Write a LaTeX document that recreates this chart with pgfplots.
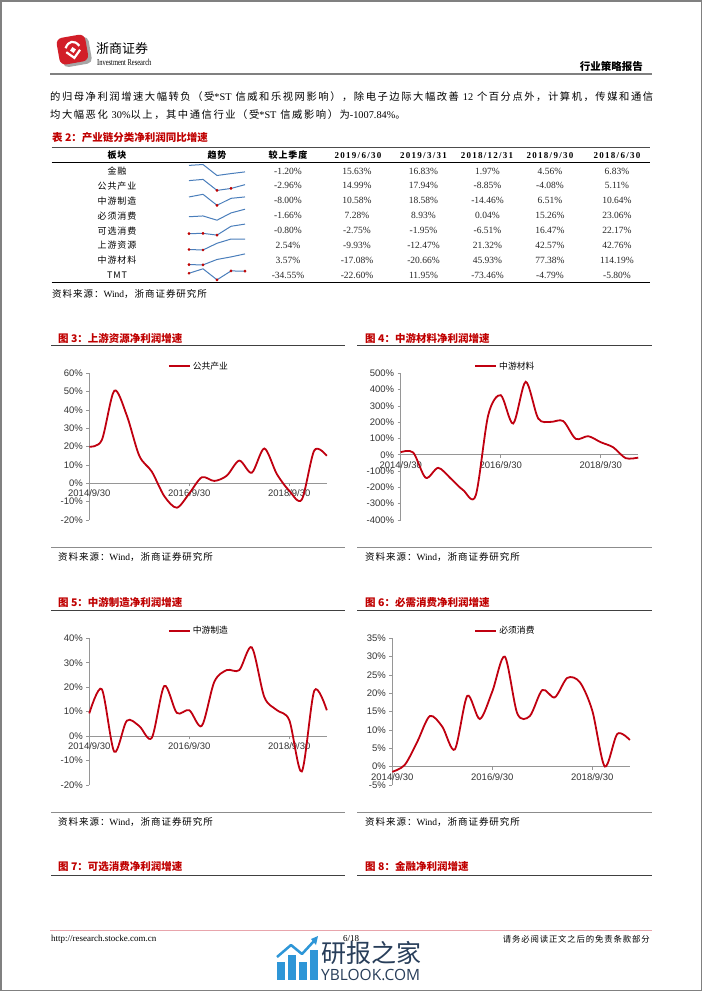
\documentclass[border=0pt]{standalone}
\usepackage{pgfplots}
\pgfplotsset{compat=1.18}
\usepackage{fontspec}
\setmainfont{Liberation Sans}
\newfontfamily\cjk{Noto Sans CJK SC}
\newfontfamily\cjkls[LetterSpace=15]{Noto Sans CJK SC}
\newfontfamily\cjkt[LetterSpace=10]{Noto Sans CJK SC}
\newfontfamily\tnr{Liberation Serif}
\newfontfamily\tnrls[LetterSpace=14]{Liberation Serif}
\newfontfamily\osans{Open Sans}
\definecolor{linered}{RGB}{192,0,16}
\definecolor{titlered}{RGB}{192,0,0}
\definecolor{axgray}{RGB}{150,150,150}
\definecolor{pagegray}{RGB}{128,128,128}
\definecolor{sparkblue}{RGB}{74,126,187}
\definecolor{sparkred}{RGB}{192,0,0}
\definecolor{logored}{RGB}{210,30,40}
\definecolor{wmblue}{RGB}{46,150,215}
\definecolor{wmnavy}{RGB}{40,62,90}
\definecolor{footpink}{RGB}{232,165,172}

\pgfplotsset{
  chartstyle/.style={scale only axis, width=237.5pt, height=146.7pt,
    xmin=0, xmax=19,
    axis x line=middle, axis y line=left,
    hide obscured x ticks=false, hide obscured y ticks=false,
    axis line style={-, draw=axgray, line width=0.7pt},
    xtick={0,8,16}, xticklabels={2014/9/30,2016/9/30,2018/9/30},
    tick style={draw=axgray, line width=0.7pt},
    tick align=outside, major tick length=3pt,
    yticklabel={\pgfmathprintnumber{\tick}\%},
    ticklabel style={font=\fontsize{9.5}{11}\selectfont, text=black!80},
    /pgf/number format/assume math mode=true,
    clip=false,
    legend style={draw=none, fill=none, anchor=center,
      font=\cjk\fontsize{8.8}{10}\selectfont, inner sep=0pt},
    legend image code/.code={\draw[##1] (0pt,0pt) -- (21pt,0pt);}
  },
  sparkstyle/.style={anchor=west, scale only axis, width=56pt, height=11pt,
    hide axis, xmin=0, xmax=4, enlargelimits=false, clip=false}
}

\newcommand\spark[3]{%
\begin{axis}[sparkstyle, at={(189pt,-#1pt)}]
\addplot[sparkblue, line width=1pt] coordinates {#2};
#3
\end{axis}}

\begin{document}
\begin{tikzpicture}
\begin{scope}[x=1pt,y=-1pt]
\path[use as bounding box] (0,0) rectangle (702,991);
\fill[white] (0,0) rectangle (702,991);
\draw[pagegray, line width=1.5pt] (0.75,0.75) rectangle (701.25,990.25);

% logo
\begin{scope}[shift={(73,50)}, rotate=10]
\fill[black!35, rounded corners=5pt] (-12,-11) rectangle (17,16);
\fill[logored, rounded corners=6pt] (-15,-14) rectangle (14,13);
\draw[white, line width=2.2pt] (-7,-3) .. controls (-3,-10) and (3,-10) .. (7,-3);
\draw[white, line width=2.2pt] (-7,1) -- (0,8) -- (7,1);
\fill[white] (0,-3) -- (3,0) -- (0,3) -- (-3,0) -- cycle;
\end{scope}
\node[anchor=west, inner sep=0pt, font=\cjk\fontsize{13}{14}\selectfont] at (96,48.5) {浙商证券};
\node[anchor=west, inner sep=0pt] at (97,62) {\scalebox{0.72}[1]{\tnr\fontsize{9}{10}\selectfont Investment Research}};
\node[anchor=east, inner sep=0pt, font=\cjk\bfseries\fontsize{10.5}{12}\selectfont] at (643,66.7) {行业策略报告};
\draw[pagegray, line width=1.2pt] (50,74) -- (652,74);

% body text
\node[anchor=west, inner sep=0pt, font=\cjkls\fontsize{10.3}{12}\selectfont] at (50,96.7) {的归母净利润增速大幅转负（受{\tnr *ST} 信威和乐视网影响），除电子边际大幅改善 {\tnr 12} 个百分点外，计算机，传媒和通信};
\node[anchor=west, inner sep=0pt, font=\cjkls\fontsize{10.3}{12}\selectfont] at (50,114.3) {均大幅恶化 {\tnr 30\%}以上，其中通信行业（受{\tnr *ST} 信威影响）为{\tnr -1007.84\%}。};

% table
\node[anchor=west, inner sep=0pt, text=titlered, font=\cjk\bfseries\fontsize{10.5}{12}\selectfont] at (52,137.7) {表 2：产业链分类净利润同比增速};
\draw[black!70, line width=0.8pt] (51.7,147.5) -- (650,147.5);
\draw[black, line width=1.3pt] (51.7,162.3) -- (650,162.3);
\draw[black, line width=1.4pt] (51.7,282.7) -- (650,282.7);
\begin{scope}[every node/.style={inner sep=0pt, font=\cjkt\bfseries\fontsize{9}{10}\selectfont}]
\node at (117,155.3) {板块};
\node at (217,155.3) {趋势};
\node at (288,155.3) {较上季度};
\end{scope}
\begin{scope}[every node/.style={inner sep=0pt, font=\tnrls\bfseries\fontsize{9}{10}\selectfont}]
\node at (358,155.3) {2019/6/30};
\node at (423.5,155.3) {2019/3/31};
\node at (487,155.3) {2018/12/31};
\node at (550,155.3) {2018/9/30};
\node at (617,155.3) {2018/6/30};
\end{scope}
\foreach \y/\n/\a/\b/\c/\d/\e/\f in {
 171/金融/-1.20/15.63/16.83/1.97/4.56/6.83,
 185.9/公共产业/-2.96/14.99/17.94/-8.85/-4.08/5.11,
 200.8/中游制造/-8.00/10.58/18.58/-14.46/6.51/10.64,
 215.7/必须消费/-1.66/7.28/8.93/0.04/15.26/23.06,
 230.6/可选消费/-0.80/-2.75/-1.95/-6.51/16.47/22.17,
 245.5/上游资源/2.54/-9.93/-12.47/21.32/42.57/42.76,
 260.4/中游材料/3.57/-17.08/-20.66/45.93/77.38/114.19,
 275.3/TMT/-34.55/-22.60/11.95/-73.46/-4.79/-5.80}{
 \node[inner sep=0pt, font=\cjkt\fontsize{9}{10}\selectfont] at (117,\y) {\n};
 \begin{scope}[every node/.style={inner sep=0pt, font=\tnr\fontsize{9.5}{10}\selectfont, text=black!85}]
 \node at (288,\y) {\a\%};
 \node at (357,\y) {\b\%};
 \node at (423.5,\y) {\c\%};
 \node at (487.5,\y) {\d\%};
 \node at (550,\y) {\e\%};
 \node at (617,\y) {\f\%};
 \end{scope}
}
\node[anchor=west, inner sep=0pt, font=\cjkt\fontsize{9.5}{11}\selectfont] at (52,294) {资料来源：{\tnr Wind}，浙商证券研究所};

% figure frames
\begin{scope}[every node/.style={anchor=west, inner sep=0pt, text=titlered, font=\cjk\bfseries\fontsize{10.5}{12}\selectfont}]
\node at (58,338) {图 3：上游资源净利润增速};
\node at (365,338) {图 4：中游材料净利润增速};
\node at (58,602.7) {图 5：中游制造净利润增速};
\node at (365,602.7) {图 6：必需消费净利润增速};
\node at (58,866.7) {图 7：可选消费净利润增速};
\node at (365,866.7) {图 8：金融净利润增速};
\end{scope}
\foreach \yy in {345.7,610.7,875.7}{
 \draw[black!75, line width=1.4pt] (51,\yy) -- (345,\yy);
 \draw[black!75, line width=1.4pt] (357,\yy) -- (651.5,\yy);
}
\foreach \yy in {547.7,812.7}{
 \draw[black!45, line width=0.8pt] (51,\yy) -- (345,\yy);
 \draw[black!45, line width=0.8pt] (357,\yy) -- (651.5,\yy);
}
\begin{scope}[every node/.style={anchor=west, inner sep=0pt, font=\cjkt\fontsize{9.5}{11}\selectfont}]
\node at (58,557) {资料来源：{\tnr Wind}，浙商证券研究所};
\node at (365,557) {资料来源：{\tnr Wind}，浙商证券研究所};
\node at (58,821.7) {资料来源：{\tnr Wind}，浙商证券研究所};
\node at (365,821.7) {资料来源：{\tnr Wind}，浙商证券研究所};
\end{scope}

% footer
\draw[footpink, line width=1.5pt] (50,930.7) -- (651.7,930.7);
\node[anchor=west, inner sep=0pt, font=\tnr\fontsize{9}{10}\selectfont] at (51,939) {http://research.stocke.com.cn};
\node[inner sep=0pt, font=\tnr\fontsize{9}{10}\selectfont] at (351,938.5) {6/18};
\node[anchor=east, inner sep=0pt, font=\cjkt\fontsize{8.4}{10}\selectfont] at (650,939) {请务必阅读正文之后的免责条款部分};

% watermark
\fill[wmblue] (277,962) rectangle (284.5,980);
\fill[wmblue] (288,955) rectangle (295.5,980);
\fill[wmblue] (299,962) rectangle (306.5,980);
\fill[wmblue] (310,950) rectangle (317.5,980);
\draw[wmblue, line width=2.5pt, line join=round] (277,957) -- (291,945) -- (302,954) -- (314,941);
\fill[wmblue] (318,936) -- (311,939) -- (316,945) -- cycle;
\node[anchor=west, inner sep=0pt, text=wmnavy, font=\cjk\fontsize{25}{27}\selectfont] at (321,953) {研报之家};
\node[anchor=west, inner sep=0pt, text=wmnavy, font=\osans\fontsize{15.5}{17}\selectfont] at (321,975) {YBLOOK.COM};
\end{scope}

% sparklines
\spark{170}{(0,15.63)(1,16.83)(2,1.97)(3,4.56)(4,6.83)}{}
\spark{184.9}{(0,14.99)(1,17.94)(2,-8.85)(3,-4.08)(4,5.11)}{\addplot[only marks, mark=*, mark size=1.2pt, sparkred] coordinates {(2,-8.85)(3,-4.08)};}
\spark{199.8}{(0,10.58)(1,18.58)(2,-14.46)(3,6.51)(4,10.64)}{\addplot[only marks, mark=*, mark size=1.2pt, sparkred] coordinates {(2,-14.46)};}
\spark{214.7}{(0,7.28)(1,8.93)(2,0.04)(3,15.26)(4,23.06)}{}
\spark{229.6}{(0,-2.75)(1,-1.95)(2,-6.51)(3,16.47)(4,22.17)}{\addplot[only marks, mark=*, mark size=1.2pt, sparkred] coordinates {(0,-2.75)(1,-1.95)(2,-6.51)};}
\spark{244.5}{(0,-9.93)(1,-12.47)(2,21.32)(3,42.57)(4,42.76)}{\addplot[only marks, mark=*, mark size=1.2pt, sparkred] coordinates {(0,-9.93)(1,-12.47)};}
\spark{259.4}{(0,-17.08)(1,-20.66)(2,45.93)(3,77.38)(4,114.19)}{\addplot[only marks, mark=*, mark size=1.2pt, sparkred] coordinates {(0,-17.08)(1,-20.66)};}
\spark{274.3}{(0,-22.60)(1,11.95)(2,-73.46)(3,-4.79)(4,-5.80)}{\addplot[only marks, mark=*, mark size=1.2pt, sparkred] coordinates {(0,-22.60)(2,-73.46)(3,-4.79)(4,-5.80)};}

% chart 3
\begin{axis}[chartstyle, at={(89.3pt,-520pt)}, anchor=south west,
  ymin=-20, ymax=60, ytick={-20,-10,...,60},
  legend style={at={(0.462,1.048)}}]
\addplot[smooth, linered, line width=1.8pt] coordinates {
(0,20)(1,23.6)(2,50.5)(3,37)(4,15)(5,6.4)(6,-7)(7,-13.3)(8,-5.5)(9,3.3)
(10,1.3)(11,4.2)(12,12.4)(13,5.8)(14,19)(15,5.11)(16,-4.08)(17,-8.85)(18,17.94)(19,14.99)};
\legend{公共产业}
\end{axis}

% chart 4
\begin{axis}[chartstyle, at={(400.7pt,-520pt)}, anchor=south west,
  ymin=-400, ymax=500, ytick={-400,-300,...,500},
  legend style={at={(0.441,1.048)}}]
\addplot[smooth, linered, line width=1.8pt] coordinates {
(0,16)(1,14)(2,-141)(3,-80)(4,-145)(5,-217)(6,-250)(7,243)(8,366)(9,192)
(10,448)(11,223)(12,202)(13,207)(14,98)(15,114.19)(16,77.38)(17,45.93)(18,-20.66)(19,-17.08)};
\legend{中游材料}
\end{axis}

% chart 5
\begin{axis}[chartstyle, at={(89.3pt,-785pt)}, anchor=south west,
  ymin=-20, ymax=40, ytick={-20,-10,...,40},
  legend style={at={(0.462,1.052)}}]
\addplot[smooth, linered, line width=1.8pt] coordinates {
(0,9.3)(1,19.2)(2,-6.4)(3,6.3)(4,4.1)(5,-0.7)(6,20.5)(7,9.5)(8,10.6)(9,4.2)
(10,22.2)(11,27)(12,27)(13,36.3)(14,16)(15,10.64)(16,6.51)(17,-14.46)(18,18.58)(19,10.58)};
\legend{中游制造}
\end{axis}

% chart 6
\begin{axis}[chartstyle, at={(392.3pt,-785pt)}, anchor=south west,
  ymin=-5, ymax=35, ytick={-5,0,...,35},
  legend style={at={(0.477,1.052)}}]
\addplot[smooth, linered, line width=1.8pt] coordinates {
(0,-1.4)(1,0.5)(2,6.8)(3,13.8)(4,10.9)(5,4.7)(6,19.3)(7,13)(8,20.5)(9,30)
(10,14.5)(11,13.8)(12,20.9)(13,18.9)(14,24.2)(15,23.06)(16,15.26)(17,0.04)(18,8.93)(19,7.28)};
\legend{必须消费}
\end{axis}
\end{tikzpicture}
\end{document}
